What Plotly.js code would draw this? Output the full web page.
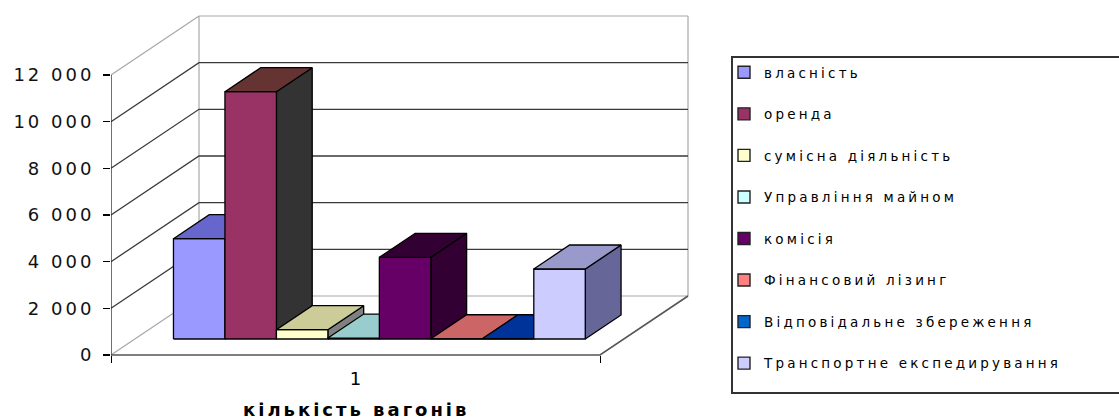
<!DOCTYPE html>
<html><head><meta charset="utf-8">
<script src="https://cdn.plot.ly/plotly-3.0.1.min.js"></script>
<style>
html,body{margin:0;padding:0;background:#fff;}
#chart{width:1119px;height:419px;}
.ytick text{letter-spacing:3px;}
.legendtext{letter-spacing:3.2px;}
.annotation-text{letter-spacing:3px;}
</style></head>
<body><div id="chart"></div>
<script>
// ---------- data ----------
const seriesNames = [
  'власність',
  'оренда',
  'сумісна діяльність',
  'Управління майном',
  'комісія',
  'Фінансовий лізинг',
  'Відповідальне збереження',
  'Транспортне експедирування'
];
const seriesValues = [4300, 10600, 400, 40, 3500, 10, 10, 3000];
const categoryLabels = ['1'];
const xTitle = 'кількість вагонів';
const yTickValues = [0, 2000, 4000, 6000, 8000, 10000, 12000];

// ---------- styles ----------
const frontColors = ['#9999FF', '#993366', '#FFFFCC', '#CCFFFF', '#660066', '#FF8080', '#0066CC', '#CCCCFF'];
const topColors   = ['#6666CC', '#663333', '#CCCC99', '#99CCCC', '#330033', '#CC6666', '#003399', '#9999CC'];
const sideColors  = ['#4C4C99', '#333333', '#808080', '#669999', '#330033', '#994C4C', '#003366', '#666699'];

// ---------- geometry (pixels) ----------
const plotLeft = 111, plotRight = 700, plotTop = 5, plotBottom = 375;
const floorY = 355, axisTopY = 75;
const yMax = yTickValues[yTickValues.length - 1];
const vpp = yMax / (floorY - axisTopY);          // value units per pixel
const floorW = 489;                              // front floor width (px)
const depthDX = 88, depthDY = 59;                // oblique depth offset (px)
const barD0 = 16 / 59, barD1 = 40 / 59;          // bar depth span (fraction)
const nBars = seriesValues.length;
const barW = floorW / (nBars + 2 * 0.75);
const gapW = 0.75 * barW;

function proj(x, v, d) { return [x + d * depthDX, v + d * depthDY * vpp]; }

function segTrace(segs, color, width) {
  const xs = [], ys = [];
  segs.forEach(s => {
    s.forEach(p => { xs.push(p[0]); ys.push(p[1]); });
    xs.push(null); ys.push(null);
  });
  return {type: 'scatter', mode: 'lines', x: xs, y: ys, hoverinfo: 'skip', showlegend: false,
          line: {color: color, width: width}};
}

const traces = [];
// light edges of the walls
const lightSegs = [];
lightSegs.push([proj(0, 0, 0), proj(0, 0, 1)]);
lightSegs.push([proj(0, yMax, 0), proj(0, yMax, 1)]);
lightSegs.push([proj(0, 0, 1), proj(0, yMax, 1)]);
lightSegs.push([proj(0, yMax, 1), proj(floorW, yMax, 1)]);
lightSegs.push([proj(floorW, yMax, 1), proj(floorW, 0, 1)]);
lightSegs.push([proj(0, 0, 1), proj(floorW, 0, 1)]);
traces.push(segTrace(lightSegs, '#A8A8A8', 1.2));
// dark gridlines (side wall + back wall)
const gridSegs = [];
yTickValues.slice(1, -1).forEach(v => {
  gridSegs.push([proj(0, v, 0), proj(0, v, 1), proj(floorW, v, 1)]);
});
traces.push(segTrace(gridSegs, '#3A3A3A', 1.3));
// floor front + right edges, y axis line
traces.push(segTrace([[proj(0, 0, 0), proj(floorW, 0, 0), proj(floorW, 0, 1)]], '#555555', 1.6));
traces.push(segTrace([[proj(0, 0, 0), proj(0, yMax, 0)]], '#222222', 1.3));

// bars (painter's order, left to right)
function poly(pts, fill) {
  const xs = pts.map(p => p[0]), ys = pts.map(p => p[1]);
  xs.push(xs[0]); ys.push(ys[0]);
  return {type: 'scatter', mode: 'lines', x: xs, y: ys, fill: 'toself', fillcolor: fill,
          line: {color: '#000000', width: 1.3}, hoverinfo: 'skip', showlegend: false};
}
seriesValues.forEach((val, i) => {
  const x0 = gapW + i * barW, x1 = x0 + barW;
  traces.push(poly([proj(x1, 0, barD0), proj(x1, 0, barD1), proj(x1, val, barD1), proj(x1, val, barD0)], sideColors[i]));
  traces.push(poly([proj(x0, 0, barD0), proj(x1, 0, barD0), proj(x1, val, barD0), proj(x0, val, barD0)], frontColors[i]));
  traces.push(poly([proj(x0, val, barD0), proj(x1, val, barD0), proj(x1, val, barD1), proj(x0, val, barD1)], topColors[i]));
});
// legend entries
seriesNames.forEach((name, i) => {
  traces.push({type: 'bar', x: [null], y: [null], name: name, legendgroup: 'g' + i,
               marker: {color: frontColors[i], line: {color: '#222', width: 1.4}}, hoverinfo: 'skip'});
});

const plotW = plotRight - plotLeft, plotH = plotBottom - plotTop;
const layout = {
  width: 1119, height: 419,
  margin: {l: plotLeft, r: 1119 - plotRight, t: plotTop, b: 419 - plotBottom, autoexpand: false},
  paper_bgcolor: '#ffffff', plot_bgcolor: 'rgba(0,0,0,0)',
  separators: ', ',
  showlegend: true,
  font: {family: 'DejaVu Sans, Arial, sans-serif', color: '#000'},
  xaxis: {
    range: [0, plotW], showgrid: false, zeroline: false, showline: false,
    anchor: 'free', position: (plotBottom - floorY) / plotH,
    tickmode: 'array', tickvals: [floorW / 2], ticktext: categoryLabels, ticks: '',
    ticklabelstandoff: 11,
    tickfont: {size: 18, family: 'DejaVu Sans', color: '#000'},
    minor: {tickmode: 'array', tickvals: [0, floorW], ticks: 'outside', ticklen: 7, tickwidth: 1, tickcolor: '#000', showgrid: false},
    fixedrange: true
  },
  yaxis: {
    range: [-(plotBottom - floorY) * vpp, yMax + (axisTopY - plotTop) * vpp],
    showgrid: false, zeroline: false, showline: false,
    tickmode: 'array', tickvals: yTickValues, tickformat: ',d',
    ticks: 'outside', ticklen: 7, tickwidth: 1.2, tickcolor: '#000',
    ticklabelstandoff: 5,
    tickfont: {size: 18, family: 'DejaVu Sans', color: '#111'},
    fixedrange: true
  },
  legend: {
    xref: 'container', yref: 'container', x: 724 / 1119, y: 1 - 57 / 419,
    xanchor: 'left', yanchor: 'top', bgcolor: 'rgba(0,0,0,0)', borderwidth: 0,
    tracegroupgap: 21, itemwidth: 30, traceorder: 'grouped', maxheight: 400,
    font: {size: 13.5, family: 'DejaVu Sans', color: '#000'}
  },
  shapes: [{
    type: 'rect', xref: 'paper', yref: 'paper',
    x0: (732 - plotLeft) / plotW, x1: (1150 - plotLeft) / plotW,
    y0: (plotBottom - 393) / plotH, y1: (plotBottom - 57) / plotH,
    line: {color: '#333333', width: 2}, fillcolor: 'rgba(0,0,0,0)'
  }],
  annotations: [{
    text: '<b>' + xTitle + '</b>', xref: 'x', x: floorW / 2, yref: 'paper',
    y: (plotBottom - 410) / plotH, xanchor: 'center', yanchor: 'middle', showarrow: false,
    font: {size: 18, family: 'DejaVu Sans', color: '#000'}
  }]
};
Plotly.newPlot('chart', traces, layout, {staticPlot: true, displayModeBar: false});
</script></body></html>
